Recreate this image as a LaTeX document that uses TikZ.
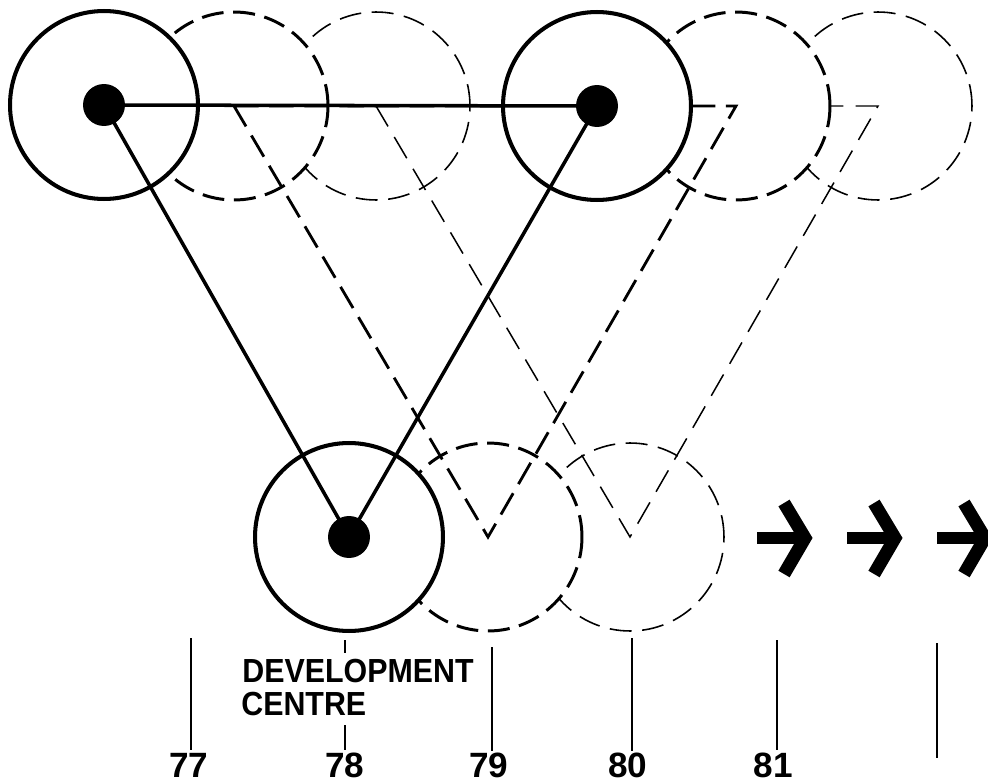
\documentclass[tikz,border=0pt]{standalone}
\usepackage{fontspec}
\setmainfont{Liberation Sans}
\newfontfamily\captionfont{Liberation Sans}[FakeStretch=0.91]

\tikzset{
  % one unit = one pixel of a 988 x 784 sheet, y pointing down
  px/.style={x=0.02cm, y=-0.02cm},
  ringbase/.style={circle, draw, fill=white, inner sep=0pt, minimum size=3.76cm},
  ringnow/.style={ringbase, line width=2.3pt},
  ringnext/.style={ringbase, line width=1.7pt, dash pattern=on 12.5pt off 5.5pt},
  ringlater/.style={ringbase, line width=0.9pt, dash pattern=on 12.5pt off 6pt},
  hub/.style={circle, fill=black, inner sep=0pt, minimum size=0.84cm},
  linknow/.style={line width=2pt},
  linknext/.style={line width=1.6pt, dash pattern=on 14pt off 6pt},
  linklater/.style={line width=0.85pt, dash pattern=on 14pt off 7pt},
  tick/.style={line width=1.3pt},
  yearlabel/.style={anchor=south, inner sep=0pt, font=\fontsize{20}{24}\selectfont\bfseries},
  caption/.style={anchor=base west, inner sep=0pt, font=\fontsize{19}{22}\selectfont\captionfont\bfseries},
  fwdarrow/.pic={
    \draw[line width=6.8pt] (0,0) -- (44,0);
    \draw[line width=7.4pt, miter limit=4] (27,-35) -- (48,0) -- (27,36);
  }
}

\begin{document}
\begin{tikzpicture}[px]
  \clip (0,0) rectangle (988,784);

  % later generation (thin dashed)
  \node[ringlater] (l1) at (376,106) {};
  \node[ringlater] (l2) at (878,106) {};
  \node[ringlater] (l3) at (630,537) {};
  \draw[linklater] (l1.center) -- (l2.center) -- (l3.center) -- cycle;

  % next generation (medium dashed)
  \node[ringnext] (m1) at (234,106) {};
  \node[ringnext] (m2) at (736,106) {};
  \node[ringnext] (m3) at (488,537) {};
  \draw[linknext] (m1.center) -- (m2.center) -- (m3.center) -- cycle;

  % present generation (solid)
  \node[ringnow] (r1) at (104,105) {};
  \node[ringnow] (r2) at (597,106) {};
  \node[ringnow] (r3) at (349,537) {};
  \node[hub] (h1) at (r1.center) {};
  \node[hub] (h2) at (r2.center) {};
  \node[hub] (h3) at (r3.center) {};
  \draw[linknow] (h1.center) -- (h2.center);
  \draw[linknow] (h1.center) -- (h3.center);
  \draw[linknow] (h2.center) -- (h3.center);

  % onward arrows
  \pic at (757,538) {fwdarrow};
  \pic at (847,538) {fwdarrow};
  \pic at (937,538) {fwdarrow};

  % year scale
  \node[yearlabel] (y77) at (189,778) {77};
  \node[yearlabel] (y78) at (345,778) {78};
  \node[yearlabel] (y79) at (489,778) {79};
  \node[yearlabel] (y80) at (628,778) {80};
  \node[yearlabel] (y81) at (773,778) {81};

  \coordinate (t77) at (191,638);
  \coordinate (t78) at (345,640);
  \coordinate (t79) at (492,647);
  \coordinate (t80) at (632,638);
  \coordinate (t81) at (777,640);
  \coordinate (t82) at (937,643);
  \coordinate (b77) at (191,750);
  \coordinate (b79) at (492,751);
  \coordinate (b80) at (632,751);
  \coordinate (b81) at (777,750);
  \coordinate (b82) at (937,758);
  \coordinate (m78a) at (345,653);
  \coordinate (m78b) at (345,725);
  \coordinate (b78) at (345,750);

  \draw[tick] (t77) -- (b77);
  \draw[tick] (t78) -- (m78a);
  \draw[tick] (m78b) -- (b78);
  \draw[tick] (t79) -- (b79);
  \draw[tick] (t80) -- (b80);
  \draw[tick] (t81) -- (b81);
  \draw[tick] (t82) -- (b82);

  \node[caption] (dev1) at (242,682) {DEVELOPMENT};
  \node[caption] (dev2) at (241,715) {CENTRE};
\end{tikzpicture}
\end{document}
